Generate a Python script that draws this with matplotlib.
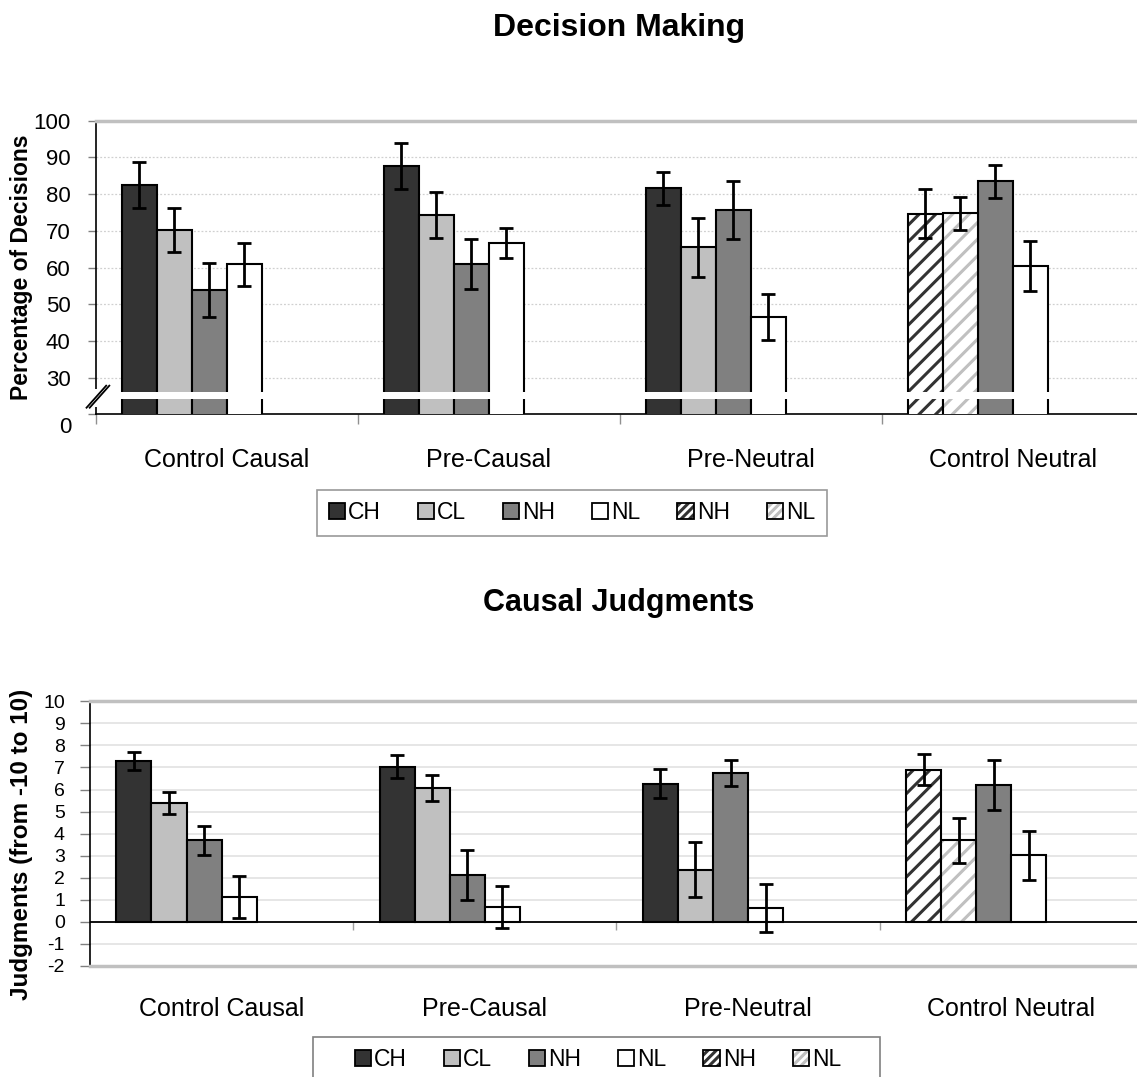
import numpy as np
import matplotlib
matplotlib.use("Agg")
import matplotlib.pyplot as plt
from matplotlib.patches import Patch, Rectangle
from matplotlib.lines import Line2D

plt.rcParams['font.family'] = ['Liberation Sans', 'DejaVu Sans']
plt.rcParams['hatch.linewidth'] = 2.2
plt.rcParams['axes.unicode_minus'] = False

# ---------------------------------------------------------------- data
groups = ["Control Causal", "Pre-Causal", "Pre-Neutral", "Control Neutral"]
legend_labels = ["CH", "CL", "NH", "NL", "NH", "NL"]
nan = np.nan

# Decision making (% of decisions) and error bar half-widths
dm_CH = [82.5, 87.7, 81.6, nan]
dm_CL = [70.2, 74.4, 65.5, nan]
dm_NH = [53.9, 60.9, 75.8, 83.5]
dm_NL = [60.9, 66.6, 46.5, 60.4]
dm_NH_alt = [nan, nan, nan, 74.7]
dm_NL_alt = [nan, nan, nan, 74.8]
dm_CH_err = [6.2, 6.3, 4.5, nan]
dm_CL_err = [5.9, 6.3, 8.0, nan]
dm_NH_err = [7.3, 6.85, 7.9, 4.5]
dm_NL_err = [5.9, 4.05, 6.35, 6.8]
dm_NH_alt_err = [nan, nan, nan, 6.6]
dm_NL_alt_err = [nan, nan, nan, 4.5]

# Causal judgments (from -10 to 10) and error bar half-widths
cj_CH = [7.30, 7.04, 6.27, nan]
cj_CL = [5.38, 6.07, 2.36, nan]
cj_NH = [3.69, 2.13, 6.75, 6.19]
cj_NL = [1.12, 0.68, 0.62, 3.01]
cj_NH_alt = [nan, nan, nan, 6.90]
cj_NL_alt = [nan, nan, nan, 3.69]
cj_CH_err = [0.41, 0.53, 0.66, nan]
cj_CL_err = [0.50, 0.58, 1.24, nan]
cj_NH_err = [0.66, 1.14, 0.60, 1.13]
cj_NL_err = [0.96, 0.94, 1.10, 1.13]
cj_NH_alt_err = [nan, nan, nan, 0.70]
cj_NL_alt_err = [nan, nan, nan, 1.02]

# ---------------------------------------------------------------- styles
DARK, LIGHT, MID, WHITE = "#333333", "#c0c0c0", "#808080", "#ffffff"
# (face, hatch colour, slot within the cluster)
series_style = [
    (DARK, None, 0),
    (LIGHT, None, 1),
    (MID, None, 2),
    (WHITE, None, 3),
    (WHITE, DARK, 0),
    (WHITE, LIGHT, 1),
]
BAR_W = 1 / 7.5
EDGE_LW = 1.5
CAT_FS = 18

W, H = 1137, 1077
fig = plt.figure(figsize=(W / 100, H / 100), dpi=100)


def px_axes(left, top, right, bottom):
    return fig.add_axes([left / W, 1 - bottom / H, (right - left) / W, (bottom - top) / H])


def slot_x(slot):
    return np.arange(len(groups)) + 0.5 + (slot - 2.5) * BAR_W


def draw_series(ax, values, errors):
    for (face, hatch_col, slot), vals, errs in zip(series_style, values, errors):
        x = slot_x(slot)
        vals = np.asarray(vals, float)
        errs = np.asarray(errs, float)
        ok = ~np.isnan(vals)
        if hatch_col is None:
            ax.bar(x[ok], vals[ok], BAR_W, color=face, edgecolor="black",
                   linewidth=EDGE_LW, zorder=3)
        else:
            ax.bar(x[ok], vals[ok], BAR_W, color=face, edgecolor=hatch_col,
                   hatch="//", linewidth=0, zorder=3)
            ax.bar(x[ok], vals[ok], BAR_W, fill=False, edgecolor="black",
                   linewidth=EDGE_LW, zorder=3)
        ax.errorbar(x[ok], vals[ok], yerr=errs[ok], fmt="none", ecolor="black",
                    elinewidth=2.0, capsize=5, capthick=2.0, zorder=4)


def category_axis(ax, label_pad):
    ax.set_xlim(0, len(groups))
    ax.set_xticks(np.arange(len(groups)) + 0.5)
    ax.set_xticklabels(groups, fontsize=CAT_FS)
    ax.tick_params(axis="x", which="major", length=0, pad=label_pad)


def legend_handles():
    handles = []
    for face, hatch_col, _ in series_style:
        if hatch_col is None:
            handles.append(Patch(facecolor=face, edgecolor="black", linewidth=1.3))
        else:
            handles.append((Patch(facecolor=WHITE, edgecolor=hatch_col, hatch="////", linewidth=0),
                            Patch(fill=False, edgecolor="black", linewidth=1.3)))
    return handles


def add_legend(cx, top, frame=True):
    leg = fig.legend(legend_handles(), legend_labels, loc="upper center",
                     bbox_to_anchor=(cx / W, 1 - top / H), ncol=6, fontsize=16.5,
                     frameon=frame, fancybox=False, edgecolor="#808080",
                     handlelength=0.7, handleheight=0.7, handletextpad=0.15,
                     columnspacing=1.6, borderpad=0.5, borderaxespad=0)
    leg.get_frame().set_linewidth(1.2)
    return leg


# ================================================================ Decision Making
ax1 = px_axes(95.7, 120.7, 1143.7, 414.3)
draw_series(ax1,
            [dm_CH, dm_CL, dm_NH, dm_NL, dm_NH_alt, dm_NL_alt],
            [dm_CH_err, dm_CL_err, dm_NH_err, dm_NL_err, dm_NH_alt_err, dm_NL_alt_err])
ax1.set_ylim(20, 100)
yt = [20, 30, 40, 50, 60, 70, 80, 90, 100]
ax1.set_yticks(yt)
ax1.set_yticklabels([""] + [str(v) for v in yt[1:]], fontsize=16)
ax1.tick_params(axis="y", length=6, width=1, color="#808080", pad=12)
# the bottom of the broken axis is labelled as zero
ax1.annotate("0", xy=(0, 20), xycoords=("axes fraction", "data"), xytext=(-24, -13),
             textcoords="offset pixels", ha="right", va="center", fontsize=16)
for v in yt[1:-1]:
    ax1.axhline(v, color="#d0d0d0", linewidth=0.9, linestyle=(0, (1.5, 1.5)), zorder=1)
category_axis(ax1, 24)
ax1.set_xticks(np.arange(len(groups) + 1), minor=True)
ax1.tick_params(axis="x", which="minor", length=7, width=1, color="#909090")
ax1.spines["right"].set_visible(False)
ax1.spines["top"].set_color("#c0c0c0")
ax1.spines["top"].set_linewidth(2.5)
ax1.spines["left"].set_linewidth(1.2)
ax1.spines["bottom"].set_linewidth(1.2)
ax1.set_ylabel("Percentage of Decisions", fontsize=16.5, fontweight="bold")
ax1.yaxis.set_label_coords((33 - 95.7) / 1048, 0.5)

# axis break: white band across each cluster and a double slash on the y axis
for g in range(len(groups)):
    left = g + 0.5 - 3 * BAR_W - 0.008
    right = g + 0.5 + BAR_W + 0.008
    ax1.add_patch(Rectangle((left, 24.2), right - left, 2.0, facecolor="white",
                            edgecolor="none", zorder=6))
ax1.add_patch(Rectangle((-0.01, 22.0), 0.02, 5.0, facecolor="white", edgecolor="none",
                        zorder=6, clip_on=False))
for dx in (0.0, 0.012):
    ax1.add_line(Line2D([-0.035 + dx, 0.04 + dx], [21.8, 27.8], color="black",
                        linewidth=1.3, zorder=7, clip_on=False))

fig.text(619 / W, 1 - 28 / H, "Decision Making", ha="center", va="center",
         fontsize=23, fontweight="bold")
add_legend(572, 490)

# ================================================================ Causal Judgments
ax2 = px_axes(90, 701.3, 1143, 966)
for v in range(-1, 10):
    ax2.axhline(v, color="#e2e2e2", linewidth=1.2, zorder=1)
draw_series(ax2,
            [cj_CH, cj_CL, cj_NH, cj_NL, cj_NH_alt, cj_NL_alt],
            [cj_CH_err, cj_CL_err, cj_NH_err, cj_NL_err, cj_NH_alt_err, cj_NL_alt_err])
ax2.set_ylim(-2, 10)
ax2.set_yticks(range(-2, 11))
ax2.tick_params(axis="y", labelsize=14, length=7, width=1, color="#808080", pad=11)
ax2.axhline(0, color="black", linewidth=1.3, zorder=5)
ax2.vlines(np.arange(1, len(groups)), -0.35, 0, colors="#a0a0a0", linewidth=1, zorder=2)
category_axis(ax2, 22)
ax2.spines["right"].set_visible(False)
for s in ("top", "bottom"):
    ax2.spines[s].set_color("#c0c0c0")
    ax2.spines[s].set_linewidth(2.5)
ax2.spines["left"].set_linewidth(1.2)
ax2.set_ylabel("Judgments (from -10 to 10)", fontsize=17.5, fontweight="bold")
ax2.yaxis.set_label_coords((33 - 90) / 1053, (966 - 844) / 264.7)

fig.text(619 / W, 1 - 603 / H, "Causal Judgments", ha="center", va="center",
         fontsize=22, fontweight="bold")
add_legend(598, 1037, frame=False)
fig.add_artist(Rectangle((313 / W, 1 - 1095 / H), (880 - 313) / W, 58 / H,
                         transform=fig.transFigure, facecolor="none",
                         edgecolor="#808080", linewidth=1.2))

fig.savefig("out.png", dpi=100)
